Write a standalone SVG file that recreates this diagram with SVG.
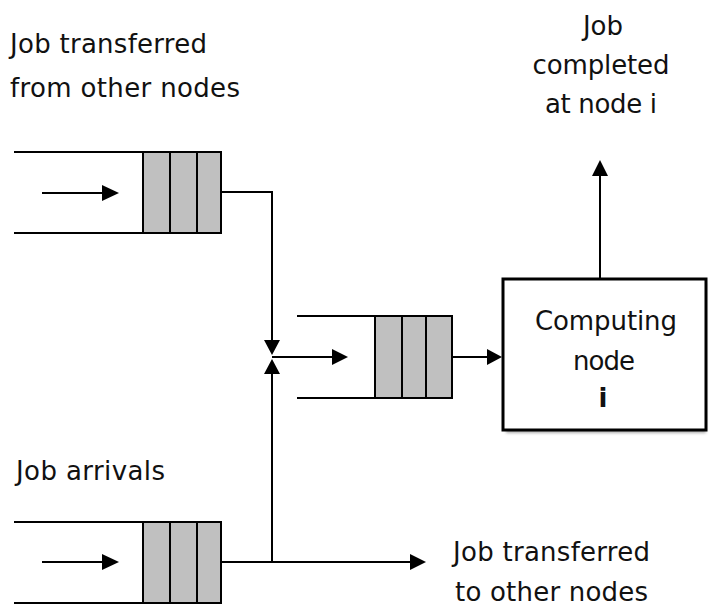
<svg xmlns="http://www.w3.org/2000/svg" width="709" height="609" viewBox="0 0 709 609">
  <defs>
    <filter id="soft" x="-10%" y="-10%" width="130%" height="130%">
      <feGaussianBlur stdDeviation="1.5"/>
    </filter>
  </defs>
  <style>
    .txt { font-family: "DejaVu Sans", "Liberation Sans", sans-serif; font-size: 26px; fill: #111; }
    .mid { text-anchor: middle; }
    .rail { stroke: #000; stroke-width: 2; fill: none; }
    .slot { fill: #c0c0c0; stroke: #000; stroke-width: 2; }
    .wire { stroke: #000; stroke-width: 2; fill: none; }
    .head { fill: #000; }
  </style>
  <rect width="709" height="609" fill="#fff"/>

  <!-- queue receiving jobs transferred from other nodes -->
  <g id="queue-transfer-in">
    <line class="rail" x1="14" y1="152" x2="143" y2="152"/>
    <line class="rail" x1="14" y1="233" x2="143" y2="233"/>
    <rect class="slot" x="143" y="152" width="27" height="81"/>
    <rect class="slot" x="170" y="152" width="27" height="81"/>
    <rect class="slot" x="197" y="152" width="24" height="81"/>
    <line class="wire" x1="42" y1="193" x2="104" y2="193"/>
    <path class="head" d="M102,185 L119,193 L102,201 z"/>
  </g>

  <!-- queue of local job arrivals -->
  <g id="queue-arrivals">
    <line class="rail" x1="14" y1="522" x2="143" y2="522"/>
    <line class="rail" x1="14" y1="603" x2="143" y2="603"/>
    <rect class="slot" x="143" y="522" width="27" height="81"/>
    <rect class="slot" x="170" y="522" width="27" height="81"/>
    <rect class="slot" x="197" y="522" width="24" height="81"/>
    <line class="wire" x1="42" y1="562" x2="104" y2="562"/>
    <path class="head" d="M102,554 L119,562 L102,570 z"/>
  </g>

  <!-- merged queue feeding the computing node -->
  <g id="queue-node">
    <line class="rail" x1="297" y1="316" x2="375" y2="316"/>
    <line class="rail" x1="297" y1="398" x2="375" y2="398"/>
    <rect class="slot" x="375" y="316" width="27" height="82"/>
    <rect class="slot" x="402" y="316" width="24" height="82"/>
    <rect class="slot" x="426" y="316" width="26" height="82"/>
  </g>

  <!-- computing node i -->
  <g id="computing-node">
    <rect x="506" y="283" width="200" height="150" fill="#888" filter="url(#soft)" opacity="0.7"/>
    <rect x="503" y="279" width="203" height="151" fill="#fff" stroke="#000" stroke-width="3"/>
    <text class="txt mid" x="606" y="330" textLength="142" lengthAdjust="spacing">Computing</text>
    <text class="txt mid" x="604" y="370" textLength="62" lengthAdjust="spacing">node</text>
    <text class="txt mid" x="603" y="407" font-weight="bold">i</text>
  </g>

  <!-- connectors -->
  <g id="connectors">
    <!-- from transfer-in queue down to the junction -->
    <polyline class="wire" points="221,192 272,192 272,342"/>
    <path class="head" d="M264,340 L272,355 L280,340 z"/>
    <!-- from arrivals queue: up to the junction and on to other nodes -->
    <line class="wire" x1="221" y1="562" x2="412" y2="562"/>
    <path class="head" d="M410,554 L426,562 L410,570 z"/>
    <line class="wire" x1="272" y1="562" x2="272" y2="372"/>
    <path class="head" d="M264,374 L272,359 L280,374 z"/>
    <!-- junction into merged queue -->
    <line class="wire" x1="272" y1="357" x2="334" y2="357"/>
    <path class="head" d="M332,349 L348,357 L332,365 z"/>
    <!-- merged queue into computing node -->
    <line class="wire" x1="452" y1="357" x2="490" y2="357"/>
    <path class="head" d="M487,349 L502,357 L487,365 z"/>
    <!-- completed jobs leave the node -->
    <line class="wire" x1="600" y1="279" x2="600" y2="174"/>
    <path class="head" d="M592,176 L600,160 L608,176 z"/>
  </g>

  <!-- labels -->
  <g id="labels">
    <text class="txt" x="10" y="53" textLength="197" lengthAdjust="spacing">Job transferred</text>
    <text class="txt" x="10" y="97" textLength="230" lengthAdjust="spacing">from other nodes</text>
    <text class="txt mid" x="603" y="35" textLength="40" lengthAdjust="spacing">Job</text>
    <text class="txt mid" x="601" y="74" textLength="137" lengthAdjust="spacing">completed</text>
    <text class="txt mid" x="601" y="113" textLength="112" lengthAdjust="spacing">at node i</text>
    <text class="txt" x="16" y="480" textLength="149" lengthAdjust="spacing">Job arrivals</text>
    <text class="txt" x="453" y="561" textLength="197" lengthAdjust="spacing">Job transferred</text>
    <text class="txt" x="455" y="601" textLength="193" lengthAdjust="spacing">to other nodes</text>
  </g>
</svg>
